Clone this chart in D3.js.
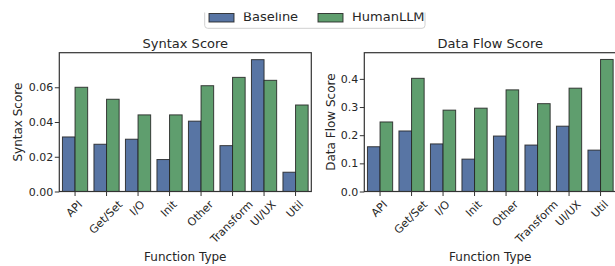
<!DOCTYPE html>
<html>
<head>
<meta charset="utf-8">
<script src="https://cdn.jsdelivr.net/npm/d3@7"></script>
<style>
  body { margin: 0; background: #fff; }
  svg text { font-family: "DejaVu Sans", sans-serif; fill: #262626; }
</style>
</head>
<body>
<svg id="chart" width="615" height="266"></svg>
<script>
var categories = ["API", "Get/Set", "I/O", "Init", "Other", "Transform", "UI/UX", "Util"];
var seriesNames = ["Baseline", "HumanLLM"];
var colors = ["#5875a4", "#5f9e6e"];

var syntaxBaseline = [0.0314, 0.0272, 0.0301, 0.0184, 0.0405, 0.0264, 0.0759, 0.0111];
var syntaxHuman    = [0.0600, 0.0531, 0.0441, 0.0441, 0.0609, 0.0657, 0.0640, 0.0498];
var flowBaseline   = [0.159, 0.215, 0.169, 0.115, 0.197, 0.165, 0.232, 0.147];
var flowHuman      = [0.247, 0.402, 0.289, 0.296, 0.361, 0.312, 0.367, 0.469];

var syntaxTicks = [0, 0.02, 0.04, 0.06];
var flowTicks = [0, 0.1, 0.2, 0.3, 0.4];

var svg = d3.select("#chart");

var panels = [
  { title: "Syntax Score", ylabel: "Syntax Score", left: 59.3, ymax: 0.0799, labelX: -37.8,
    ticks: syntaxTicks, fmt: d3.format(".2f"), series: [syntaxBaseline, syntaxHuman] },
  { title: "Data Flow Score", ylabel: "Data Flow Score", left: 364.3, ymax: 0.493, labelX: -29.8,
    ticks: flowTicks, fmt: d3.format(".1f"), series: [flowBaseline, flowHuman] }
];

var plotW = 252, plotTop = 52.7, plotBottom = 191.5;
var tickFont = 11;

panels.forEach(function (p) {
  var g = svg.append("g").attr("transform", "translate(" + p.left + ",0)");

  var x = d3.scaleBand().domain(categories).range([0, plotW]).paddingInner(0.2).paddingOuter(0.1);
  var y = d3.scaleLinear().domain([0, p.ymax]).range([plotBottom, plotTop]);
  var bw = x.bandwidth() / 2;

  p.series.forEach(function (vals, si) {
    g.selectAll(".bar" + si)
      .data(vals)
      .enter().append("rect")
        .attr("x", function (d, i) { return x(categories[i]) + si * bw; })
        .attr("y", function (d) { return y(d); })
        .attr("width", bw)
        .attr("height", function (d) { return y(0) - y(d); })
        .attr("fill", colors[si])
        .attr("stroke", "#222")
        .attr("stroke-opacity", 0.85)
        .attr("stroke-width", 1);
  });

  // frame
  g.append("rect")
    .attr("x", 0).attr("y", plotTop)
    .attr("width", plotW).attr("height", plotBottom - plotTop)
    .attr("fill", "none").attr("stroke", "#333").attr("stroke-width", 1.2);

  var yAxis = g.append("g")
    .call(d3.axisLeft(y).tickValues(p.ticks).tickFormat(p.fmt).tickSize(4.5).tickPadding(1.5));
  yAxis.select(".domain").remove();
  yAxis.selectAll("line").attr("stroke", "#333");
  yAxis.selectAll("text").style("font-size", tickFont + "px").style("font-family", "DejaVu Sans").attr("fill", "#262626");

  var xAxis = g.append("g").attr("transform", "translate(0," + plotBottom + ")")
    .call(d3.axisBottom(x).tickSize(4.5).tickPadding(2));
  xAxis.select(".domain").remove();
  xAxis.selectAll("line").attr("stroke", "#333");
  // labels rotated 45deg, rotated box centred under the tick, top just below it
  xAxis.selectAll("text")
    .style("font-size", tickFont + "px").style("font-family", "DejaVu Sans").attr("fill", "#262626")
    .attr("text-anchor", "middle")
    .attr("x", 0).attr("y", 0)
    .attr("dy", "0.36em")
    .attr("transform", function () {
      var w = this.getComputedTextLength();
      var cy = 8 + 0.3536 * (w + 0.73 * tickFont);
      return "translate(-1," + cy + ") rotate(-45)";
    });

  g.append("text")
    .attr("x", plotW / 2).attr("y", 48.3)
    .attr("text-anchor", "middle")
    .style("font-size", "13px")
    .text(p.title);

  g.append("text")
    .attr("x", plotW / 2).attr("y", 261)
    .attr("text-anchor", "middle")
    .style("font-size", "12px")
    .text("Function Type");

  g.append("text")
    .attr("transform", "translate(" + p.labelX + "," + ((plotTop + plotBottom) / 2) + ") rotate(-90)")
    .attr("text-anchor", "middle")
    .style("font-size", "12px")
    .text(p.ylabel);
});

// legend (its top is cut off in the figure)
svg.append("clipPath").attr("id", "legclip")
  .append("rect").attr("x", 0).attr("y", 12.5).attr("width", 615).attr("height", 30);

var legend = svg.append("g").attr("clip-path", "url(#legclip)");
legend.append("rect")
  .attr("x", 204.7).attr("y", -6).attr("width", 220.3).attr("height", 34.3)
  .attr("rx", 3).attr("fill", "#fff").attr("stroke", "#d0d0d0").attr("stroke-width", 1);

var legX = [209, 318];
seriesNames.forEach(function (name, i) {
  legend.append("rect")
    .attr("x", legX[i]).attr("y", 13.5).attr("width", 25).attr("height", 8.5)
    .attr("fill", colors[i]).attr("stroke", "#222").attr("stroke-opacity", 0.85);
  legend.append("text")
    .attr("x", legX[i] + 34).attr("y", 20.7)
    .style("font-size", "13px")
    .text(name);
});
</script>
</body>
</html>
